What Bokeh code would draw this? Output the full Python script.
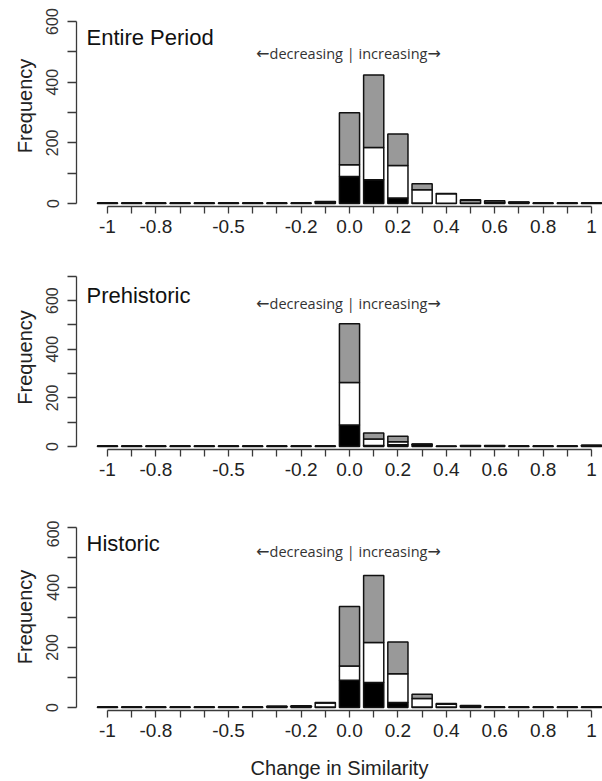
from bokeh.plotting import figure
from bokeh.layouts import column
from bokeh.models import ColumnDataSource, FixedTicker, Range1d, Label
from bokeh.embed import file_html
from bokeh.resources import INLINE

# ---------------- data ----------------
bin_centers = [-1.0, -0.9, -0.8, -0.7, -0.6, -0.5, -0.4, -0.3, -0.2, -0.1, 0.0,
               0.1, 0.2, 0.3, 0.4, 0.5, 0.6, 0.7, 0.8, 0.9, 1.0]
x_tick_labels = ["-1", "", "-0.8", "", "", "-0.5", "", "", "-0.2", "", "0.0",
                 "", "0.2", "", "0.4", "", "0.6", "", "0.8", "", "1"]

panel_titles = ["Entire Period", "Prehistoric", "Historic"]

entire_black = [2, 2, 2, 2, 2, 2, 2, 2, 2, 5, 89, 78, 18, 2, 1, 2, 2, 3, 2, 2, 2]
entire_white = [0, 0, 0, 0, 0, 0, 0, 0, 0, 1, 39, 107, 107, 43, 31, 8, 1, 1, 0, 0, 0]
entire_gray = [0, 0, 0, 0, 0, 0, 0, 0, 0, 1, 171, 239, 104, 20, 1, 2, 6, 1, 0, 0, 0]

prehist_black = [2, 2, 2, 2, 2, 2, 2, 2, 2, 2, 88, 4, 7, 8, 1, 3, 3, 2, 2, 2, 4]
prehist_white = [0, 0, 0, 0, 0, 0, 0, 0, 0, 0, 175, 27, 12, 1, 0, 0, 0, 0, 0, 0, 0]
prehist_gray = [0, 0, 0, 0, 0, 0, 0, 0, 0, 0, 242, 24, 23, 1, 0, 1, 1, 0, 0, 0, 1]

hist_black = [2, 2, 2, 2, 2, 2, 2, 3, 4, 2, 91, 83, 17, 2, 2, 3, 2, 2, 2, 2, 2]
hist_white = [0, 0, 0, 0, 0, 0, 0, 0, 0, 13, 47, 133, 95, 28, 9, 0, 0, 0, 0, 0, 0]
hist_gray = [0, 0, 0, 0, 0, 0, 0, 1, 2, 2, 198, 223, 106, 14, 2, 4, 0, 0, 0, 0, 0]

y_axis_max = [600, 700, 600]
annotation_text = "decreasing | increasing"
arrow_left = "\u2190"
arrow_right = "\u2192"
x_axis_title = "Change in Similarity"
y_axis_title = "Frequency"

# ---------------- layout (pixels) ----------------
layouts = [
    dict(H=260, top=5, zero=203.0, k=0.3033, title_base=37.0, ann_y=52.5),
    dict(H=260, top=5, zero=185.7, k=0.2428, title_base=35.3, ann_y=42.5),
    dict(H=261, top=3, zero=187.7, k=0.3017, title_base=22.7, ann_y=31.5),
]
series = [
    (entire_black, entire_white, entire_gray),
    (prehist_black, prehist_white, prehist_gray),
    (hist_black, hist_white, hist_gray),
]

FONT = "Liberation Sans"
AX = "#3a3a3a"
LEFT = 76
PX_BIN = 24.2
FIRST_TICK = 107
x_start = -(FIRST_TICK - LEFT) / PX_BIN
x_end = x_start + (602 - LEFT) / PX_BIN


def xdata(px):
    return (px - FIRST_TICK) / PX_BIN


positions = list(range(len(bin_centers)))
figs = []
for i, (lay, (blk, wht, gry)) in enumerate(zip(layouts, series)):
    k = lay["k"]
    zero = lay["zero"]
    frame_bottom = zero + 3
    y_start = -3 / k
    y_end = (zero - lay["top"]) / k

    def ydata(px):
        return (zero - px) / k

    p = figure(width=602, height=lay["H"], x_range=Range1d(x_start, x_end),
               y_range=Range1d(y_start, y_end), toolbar_location=None,
               output_backend="svg", min_border_left=LEFT, min_border_right=0,
               min_border_top=lay["top"],
               min_border_bottom=int(round(lay["H"] - frame_bottom)))
    p.outline_line_color = None
    p.xgrid.visible = False
    p.ygrid.visible = False
    p.background_fill_color = "white"
    p.border_fill_color = "white"

    src = ColumnDataSource(dict(x=positions, black=blk, white=wht, gray=gry))
    p.vbar_stack(["black", "white", "gray"], x="x", width=1 / 1.2, source=src,
                 fill_color=["#000000", "#ffffff", "#999999"],
                 line_color="#111111", line_width=1.5)

    # x axis
    xa = p.xaxis[0]
    xa.ticker = FixedTicker(ticks=positions)
    xa.major_label_overrides = {pos: lab for pos, lab in zip(positions, x_tick_labels)}
    xa.bounds = (positions[0], positions[-1])
    xa.major_tick_out = 7
    xa.major_tick_in = 0
    xa.major_label_standoff = 6
    xa.major_label_text_font = FONT
    xa.major_label_text_font_size = "19px"
    xa.major_label_text_color = "#222222"
    xa.axis_line_color = AX
    xa.major_tick_line_color = AX
    xa.axis_line_width = 1.3
    xa.major_tick_line_width = 1.3
    xa.minor_tick_line_color = None
    if i == 2:
        xa.axis_label = x_axis_title
        xa.axis_label_text_font = FONT
        xa.axis_label_text_font_size = "20px"
        xa.axis_label_text_font_style = "normal"
        xa.axis_label_text_color = "#222222"
        xa.axis_label_standoff = 17

    # y axis
    ya = p.yaxis[0]
    yt = list(range(0, y_axis_max[i] + 1, 100))
    ya.ticker = FixedTicker(ticks=yt)
    ya.major_label_overrides = {t: (str(t) if t % 200 == 0 else "") for t in yt}
    ya.bounds = (0, y_axis_max[i])
    ya.major_tick_out = 9
    ya.major_tick_in = 0
    ya.major_label_orientation = "vertical"
    ya.major_label_standoff = 9
    ya.major_label_text_font = FONT
    ya.major_label_text_font_size = "16px"
    ya.major_label_text_color = "#333333"
    ya.axis_line_color = AX
    ya.major_tick_line_color = AX
    ya.axis_line_width = 1.3
    ya.major_tick_line_width = 1.3
    ya.minor_tick_line_color = None
    ya.axis_label = y_axis_title
    ya.axis_label_text_font = FONT
    ya.axis_label_text_font_size = "20px"
    ya.axis_label_text_font_style = "normal"
    ya.axis_label_text_color = "#222222"
    ya.axis_label_standoff = 8

    p.add_layout(Label(x=xdata(86), y=ydata(lay["title_base"]),
                       text=panel_titles[i], text_font=FONT, text_font_size="22px",
                       text_color="#111111", text_baseline="alphabetic"))
    ay = ydata(lay["ann_y"])
    p.add_layout(Label(x=xdata(348), y=ay,
                       text=annotation_text, text_font="Open Sans",
                       text_font_size="14.5px", text_color="#333333",
                       text_align="center", text_baseline="middle"))
    p.add_layout(Label(x=xdata(269), y=ay, text=arrow_left, text_font="DejaVu Sans",
                       text_font_size="16px", text_color="#333333",
                       text_align="right", text_baseline="middle"))
    p.add_layout(Label(x=xdata(427), y=ay, text=arrow_right, text_font="DejaVu Sans",
                       text_font_size="16px", text_color="#333333",
                       text_align="left", text_baseline="middle"))
    figs.append(p)

layout = column(*figs, spacing=0)
open("out.html", "w").write(file_html(layout, INLINE))
